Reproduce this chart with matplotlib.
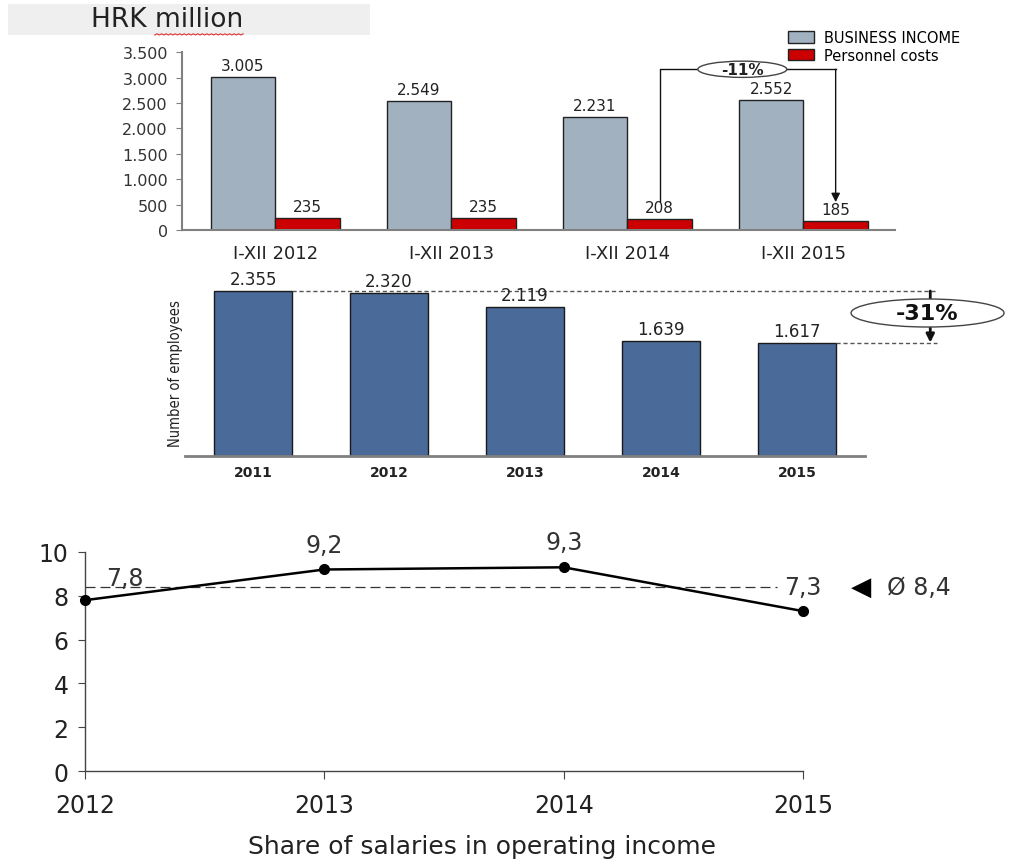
import numpy as np
import matplotlib.pyplot as plt
from matplotlib.patches import Ellipse, Rectangle

# --- data ---------------------------------------------------------------
periods = ['I-XII 2012', 'I-XII 2013', 'I-XII 2014', 'I-XII 2015']
business_income = [3005, 2549, 2231, 2552]
personnel_costs = [235, 235, 208, 185]

emp_years = ['2011', '2012', '2013', '2014', '2015']
employees = [2355, 2320, 2119, 1639, 1617]

share_years = ['2012', '2013', '2014', '2015']
salary_share = [7.8, 9.2, 9.3, 7.3]
share_avg = 8.4


def dotted(v):
    return f'{v:,}'.replace(',', '.')


def comma(v):
    return f'{v:.1f}'.replace('.', ',')


plt.rcParams['font.family'] = ['DejaVu Sans']
fig = plt.figure(figsize=(10.21, 8.62), dpi=100)

# title box
fig.patches.append(Rectangle((0.0078, 0.9582), 0.3546, 0.036, transform=fig.transFigure,
                             facecolor='#EFEFEF', edgecolor='none', zorder=0))
title = fig.text(0.089, 0.9768, 'HRK million', fontsize=19, color='#222', va='center', ha='left')

# --- panel 1: business income vs personnel costs ------------------------
ax1 = fig.add_axes([0.178, 0.732, 0.6986, 0.2062])
x = np.arange(len(periods))
w = 0.366
ax1.bar(x - w / 2, business_income, w, color='#A2B1C0', edgecolor='#222', lw=1,
        label='BUSINESS INCOME')
ax1.bar(x + w / 2, personnel_costs, w, color='#CC0000', edgecolor='#222', lw=1,
        label='Personnel costs')
for i in range(len(periods)):
    ax1.annotate(dotted(business_income[i]), (x[i] - w / 2, business_income[i]),
                 xytext=(0, 4), textcoords='offset pixels', ha='center', va='bottom',
                 fontsize=11, color='#222')
    ax1.annotate(dotted(personnel_costs[i]), (x[i] + w / 2, personnel_costs[i]),
                 xytext=(0, 4), textcoords='offset pixels', ha='center', va='bottom',
                 fontsize=11, color='#222')
ax1.set_xlim(-0.53, 3.52)
ax1.set_ylim(0, 3500)
yt = np.arange(0, 3501, 500)
ax1.set_yticks(yt)
ax1.set_yticklabels([dotted(v) for v in yt], fontsize=11.5, color='#333')
ax1.set_xticks(x)
ax1.set_xticklabels(periods, fontsize=13, color='#222')
ax1.tick_params(axis='x', length=0, pad=10)
ax1.tick_params(axis='y', length=4, color='#808080', pad=6)
for s in ['top', 'right']:
    ax1.spines[s].set_visible(False)
for s in ['left', 'bottom']:
    ax1.spines[s].set_color('#808080')
    ax1.spines[s].set_linewidth(1.5)

leg = ax1.legend(loc='upper left', bbox_to_anchor=(788 / 1021, 1 - 31 / 862),
                 bbox_transform=fig.transFigure, frameon=False, fontsize=10.5,
                 handlelength=1.8, handleheight=0.8, handletextpad=0.7,
                 labelspacing=0.2, borderpad=0, borderaxespad=0)

# -11% bracket
bracket_y = 3165
xa, xb = 2 + w / 2, 3 + w / 2
ax1.plot([xa, xa, xb], [personnel_costs[2] + 360, bracket_y, bracket_y],
         color='#111', lw=1, clip_on=False)
ax1.annotate('', xy=(xb, personnel_costs[3] + 365), xytext=(xb, bracket_y),
             arrowprops=dict(arrowstyle='-|>', color='#111', lw=1, mutation_scale=13,
                             shrinkA=0, shrinkB=0), annotation_clip=False)
ax1.add_patch(Ellipse(((xa + xb) / 2 - 0.03, bracket_y), 0.505, 320, facecolor='white',
                      edgecolor='#444', lw=1, clip_on=False, zorder=4))
ax1.text((xa + xb) / 2 - 0.03, bracket_y, '-11%', ha='center', va='center',
         fontsize=11, fontweight='bold', color='#222', zorder=5)

# --- panel 2: number of employees --------------------------------------
ax2 = fig.add_axes([0.1812, 0.4704, 0.666, 0.2257])
xe = np.arange(len(emp_years))
we = 0.57
ax2.bar(xe, employees, we, color='#4A6A99', edgecolor='#1a1a1a', lw=1, zorder=2)
for i in range(len(emp_years)):
    ax2.annotate(dotted(employees[i]), (xe[i], employees[i]), xytext=(0, 3),
                 textcoords='offset pixels', ha='center', va='bottom',
                 fontsize=12, color='#222')
ax2.set_xlim(-0.5, 4.5)
ax2.set_ylim(0, 2785)
ax2.set_yticks([])
ax2.set_xticks(xe)
ax2.set_xticklabels(emp_years, fontsize=10, fontweight='bold', color='#222')
ax2.tick_params(axis='x', length=0, pad=7)
for s in ['top', 'right', 'left']:
    ax2.spines[s].set_visible(False)
ax2.spines['bottom'].set_color('#808080')
ax2.spines['bottom'].set_linewidth(2)
fig.text(175 / 1021, 1 - 374 / 862, 'Number of employees', rotation=90, ha='center',
         va='center', fontsize=10.5, color='#222', fontstretch='condensed')

x_end = 5.03
ax2.plot([xe[0] + we / 2, x_end], [employees[0]] * 2, ls=(0, (3, 2)), color='#555',
         lw=1, clip_on=False)
ax2.plot([xe[-1] + we / 2, x_end], [employees[-1]] * 2, ls=(0, (3, 2)), color='#555',
         lw=1, clip_on=False)
ax2.annotate('', xy=(4.98, employees[-1]), xytext=(4.98, employees[0]),
             arrowprops=dict(arrowstyle='-|>', color='#111', lw=2, mutation_scale=12,
                             shrinkA=0, shrinkB=0), annotation_clip=False)
ax2.add_patch(Ellipse((4.96, 2040), 1.125, 401, facecolor='white', edgecolor='#444',
                      lw=1, clip_on=False, zorder=4))
ax2.text(4.96, 2040, '-31%', ha='center', va='center', fontsize=16, fontweight='bold',
         color='#111', zorder=5)

# --- panel 3: share of salaries -----------------------------------------
ax3 = fig.add_axes([0.0833, 0.1044, 0.7032, 0.2541])
xs = np.arange(len(share_years))
ax3.plot([0, 2.892], [share_avg, share_avg], color='#333', lw=0.9, dashes=(8, 4))
ax3.plot(xs, salary_share, color='black', lw=1.8, marker='o', markersize=7,
         clip_on=False, zorder=3)
offsets = [(40, 22), (0, 24), (0, 25), (0, 24)]
for i, v in enumerate(salary_share):
    ax3.annotate(comma(v), (xs[i], v), xytext=offsets[i], textcoords='offset pixels',
                 ha='center', va='center', fontsize=17, color='#333')
ax3.annotate('\u25C0', (xs[-1], share_avg), xytext=(58, 0), textcoords='offset pixels',
             ha='center', va='center', fontsize=19, color='black', annotation_clip=False)
ax3.annotate('Ø ' + comma(share_avg), (xs[-1], share_avg), xytext=(84, 0),
             textcoords='offset pixels', ha='left', va='center', fontsize=17,
             color='#333', annotation_clip=False)
ax3.set_xlim(0, 3)
ax3.set_ylim(0, 10)
ax3.set_xticks(xs)
ax3.set_xticklabels(share_years, fontsize=17, color='#222')
ax3.set_yticks(np.arange(0, 11, 2))
ax3.tick_params(axis='y', labelsize=17, labelcolor='#222', length=5, pad=7, color='#444')
ax3.tick_params(axis='x', length=6, pad=10, color='#444')
for s in ['top', 'right']:
    ax3.spines[s].set_visible(False)
for s in ['left', 'bottom']:
    ax3.spines[s].set_color('#444')
    ax3.spines[s].set_linewidth(1)
fig.text(482 / 1021, 1 - 847 / 862, 'Share of salaries in operating income', ha='center',
         va='center', fontsize=18, color='#222')

# spell-check squiggle under "million"
fig.canvas.draw()
bb = title.get_window_extent()
sx = np.linspace(bb.x0 + 0.42 * bb.width, bb.x1, 40)
sy = bb.y0 - 3 + 1.2 * (np.arange(40) % 2)
fig.lines.append(plt.Line2D(sx, sy, transform=None, color='#E03030', lw=0.8))

fig.savefig('out.png', dpi=100)
